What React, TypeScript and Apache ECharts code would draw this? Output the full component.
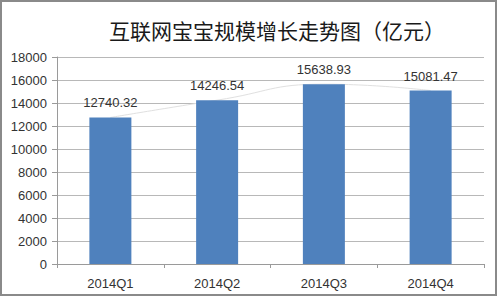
import React, { useEffect, useRef } from "react";
import * as echarts from "echarts";

const categories = ["2014Q1", "2014Q2", "2014Q3", "2014Q4"];
const values = [12740.32, 14246.54, 15638.93, 15081.47];
const yTicks = [0, 2000, 4000, 6000, 8000, 10000, 12000, 14000, 16000, 18000];

export default function App() {
  const ref = useRef<HTMLDivElement>(null);
  useEffect(() => {
    if (!ref.current) return;
    const chart = echarts.init(ref.current, null, { renderer: "svg" });
    const font = "'Liberation Sans', 'DejaVu Sans', sans-serif";
    chart.setOption({
      animation: false,
      backgroundColor: "#ffffff",
      title: {
        text: "互联网宝宝规模增长走势图（亿元）",
        left: 272,
        textAlign: "center",
        top: 14,
        textStyle: {
          fontFamily: "'Noto Sans CJK SC', sans-serif",
          fontSize: 21,
          fontWeight: "normal",
          color: "#1a1a1a",
        },
      },
      graphic: [
        {
          type: "rect",
          shape: { x: 1, y: 1, width: 495, height: 294 },
          style: { fill: "none", stroke: "#8a8a8a", lineWidth: 2 },
          silent: true,
        },
      ],
      grid: { left: 57, right: 16, top: 57, bottom: 36 },
      xAxis: {
        type: "category",
        data: categories,
        axisLine: { lineStyle: { color: "#9a9a9a" } },
        axisTick: { show: true, alignWithLabel: false, length: 4, lineStyle: { color: "#9a9a9a" } },
        axisLabel: { color: "#333", fontSize: 13, fontFamily: font, margin: 13 },
      },
      yAxis: {
        type: "value",
        min: yTicks[0],
        max: yTicks[yTicks.length - 1],
        interval: 2000,
        axisLine: { show: true, lineStyle: { color: "#9a9a9a" } },
        axisTick: { show: true, length: 5, lineStyle: { color: "#9a9a9a" } },
        axisLabel: {
          color: "#333",
          fontSize: 13,
          fontFamily: font,
          margin: 10,
          formatter: (v: number) => String(v),
        },
        splitLine: { lineStyle: { color: "#b8b8b8" } },
      },
      series: [
        {
          type: "line",
          data: values,
          smooth: true,
          symbol: "none",
          z: 1,
          lineStyle: { color: "#e0e0e0", width: 1 },
        },
        {
          type: "bar",
          data: values,
          barWidth: 42,
          z: 2,
          itemStyle: { color: "#4f81bd" },
          label: {
            show: true,
            position: "top",
            distance: 8,
            color: "#333",
            fontSize: 13,
            fontFamily: font,
            formatter: (p: any) => p.value.toFixed(2),
          },
        },
      ],
    });
    return () => chart.dispose();
  }, []);
  return (
    <div
      ref={ref}
      style={{ position: "fixed", left: 0, top: 0, width: 500, height: 300 }}
    />
  );
}
